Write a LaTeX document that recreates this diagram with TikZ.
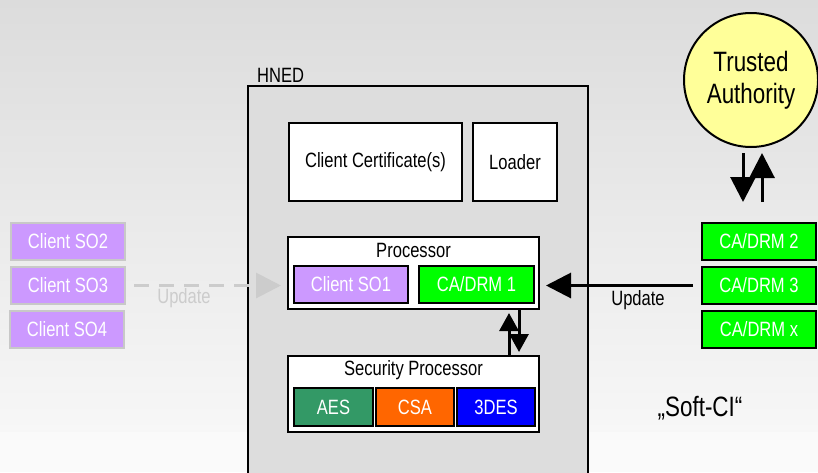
\documentclass[tikz,border=0pt]{standalone}
\usepackage{fontspec}
\setmainfont{Liberation Sans}[FakeStretch=0.8]
\usetikzlibrary{arrows.meta}
\definecolor{bgtop}{HTML}{DCDCDC}
\definecolor{bgbot}{HTML}{F7F7F7}
\definecolor{bgend}{HTML}{FAFAFA}
\definecolor{hnedfill}{HTML}{DDDDDD}
\definecolor{purp}{HTML}{CC99FF}
\definecolor{grn}{HTML}{00FF00}
\definecolor{aesc}{HTML}{339966}
\definecolor{csac}{HTML}{FF6600}
\definecolor{desc}{HTML}{0000FF}
\definecolor{tafill}{HTML}{FFFF99}
\definecolor{lgray}{HTML}{C8C8C8}
\definecolor{dgray}{HTML}{CCCCCC}
\tikzset{
  body/.style={font=\fontsize{20.7}{23}\selectfont},
  whitebox/.style={draw=black, line width=2pt, fill=white, inner sep=0pt, body},
  cbox/.style={draw=black, line width=2pt, inner sep=0pt, text=white, body, minimum height=37pt},
  leftbox/.style={draw=lgray, line width=2pt, fill=purp, inner sep=0pt, text=white, body, minimum width=114pt, minimum height=37pt},
  rightbox/.style={draw=black, line width=2pt, fill=grn, inner sep=0pt, text=white, body, minimum width=114pt, minimum height=37pt},
  bigarr/.style={draw=black, line width=3pt, -{Triangle[length=25pt,width=25pt]}},
  smallarr/.style={draw=black, line width=3pt, -{Triangle[length=18pt,width=19pt]}},
  dasharr/.style={draw=dgray, line width=3pt, dash pattern=on 15pt off 10pt, -{Triangle[length=25pt,width=25pt]}},
  lbl/.style={inner sep=0pt, body},
}
\begin{document}
\begin{tikzpicture}[x=1pt,y=-1pt]
\useasboundingbox (0,0) rectangle (818,472);
% background
\shade[top color=bgtop, bottom color=bgbot] (0,0) rectangle (818,432);
\fill[bgend] (0,432) rectangle (818,472);
% HNED
\begin{scope}
\clip (0,0) rectangle (818,472);
\node[draw=black, line width=2pt, fill=hnedfill, minimum width=340pt, minimum height=420pt, anchor=north west, inner sep=0pt] (hned) at (247,85) {};
\end{scope}
\node[lbl, anchor=west] (hnedlbl) at (257,75) {HNED};
% top boxes
\node[whitebox, minimum width=173pt, minimum height=78pt] (cert) at (375.5,162) {Client Certificate(s)};
\node[whitebox, minimum width=84pt, minimum height=78pt] (loader) at (515,162) {Loader};
% processor
\node[whitebox, minimum width=251pt, minimum height=72pt] (proc) at (413.5,273) {};
\node[lbl] (proclbl) at (413.5,250) {Processor};
\node[cbox, fill=purp, minimum width=114pt] (so1) at (351,284.5) {Client SO1};
\node[cbox, fill=grn, minimum width=115pt] (drm1) at (476.5,284.5) {CA/DRM 1};
% security processor
\node[whitebox, minimum width=251pt, minimum height=76pt] (sec) at (413.5,394) {};
\node[lbl] (seclbl) at (413.5,370) {Security Processor};
\node[cbox, fill=aesc, minimum width=79pt, minimum height=38pt] (aes) at (333.5,407) {AES};
\node[cbox, fill=csac, minimum width=78pt, minimum height=38pt] (csa) at (415,407) {CSA};
\node[cbox, fill=desc, minimum width=78pt, minimum height=38pt] (des) at (496,407) {3DES};
% trusted authority
\node[circle, draw=black, line width=2pt, fill=tafill, minimum size=134pt, inner sep=0pt, align=center, font=\fontsize{28}{32}\selectfont] (ta) at (751,80) {Trusted\\Authority};
% right boxes
\node[rightbox] (drm2) at (759,241.5) {CA/DRM 2};
\node[rightbox] (drm3) at (759,285.5) {CA/DRM 3};
\node[rightbox] (drmx) at (759,329.5) {CA/DRM x};
% left boxes
\node[leftbox] (so2) at (68,241.5) {Client SO2};
\node[leftbox] (so3) at (68,285.5) {Client SO3};
\node[leftbox] (so4) at (67,329.5) {Client SO4};
% labels
\node[lbl] (updr) at (638,300) {Update};
\node[lbl, text=dgray] (updl) at (184,298) {Update};
\node[inner sep=0pt, font=\fontsize{28}{32}\selectfont] (soft) at (700,408) {„Soft-CI“};
% connectors
\draw[bigarr, shorten <=8pt, shorten >=11pt] (drm3.west) -- (drm3.west -| drm1.east);
\draw[dasharr, shorten <=8pt, shorten >=6pt] (so3.east) -- (so3.east -| proc.west);
\draw[smallarr, shorten >=3pt] ([xshift=95.5pt]sec.north) -- ([xshift=95.5pt]proc.south);
\draw[smallarr, shorten >=3pt] ([xshift=105.5pt]proc.south) -- ([xshift=105.5pt]sec.north);
\draw[bigarr, shorten <=5pt, shorten >=20pt] ([xshift=-8pt]ta.south) -- ([xshift=-16pt]drm2.north);
\draw[bigarr, shorten <=20pt, shorten >=5pt] ([xshift=3pt]drm2.north) -- ([xshift=11pt]ta.south);
\end{tikzpicture}
\end{document}
